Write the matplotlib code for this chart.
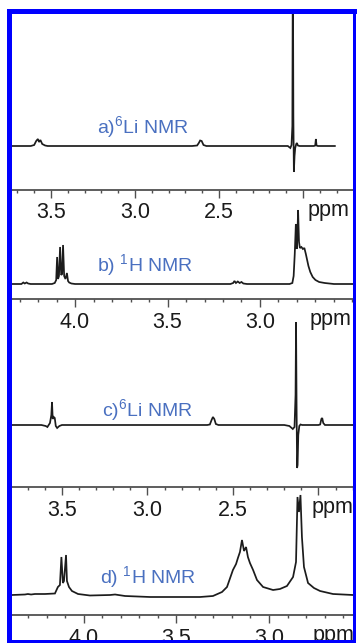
import matplotlib
matplotlib.use("Agg")
import matplotlib.pyplot as plt
from matplotlib.patches import Rectangle
from matplotlib.ticker import MultipleLocator

plt.rcParams['font.family'] = ['Liberation Sans', 'DejaVu Sans']
plt.rcParams['mathtext.fontset'] = 'custom'
plt.rcParams['mathtext.rm'] = 'Liberation Sans'

W, H = 358, 643

# ---- data (ppm, intensity above baseline) ----
a_ppm = [3.73, 3.62, 3.600, 3.588, 3.578, 3.571, 3.563, 3.552, 3.535, 3.52,
         2.66, 2.630, 2.620, 2.612, 2.603, 2.592, 2.575,
         2.090, 2.075, 2.068, 2.063, 2.060, 2.057, 2.054, 2.050, 2.046, 2.040, 2.036, 2.030, 2.020,
         1.935, 1.927, 1.923, 1.919, 1.911, 1.81]
a_int = [0, 0, 1, 5, 7, 4, 6, 2, 0.5, 0,
         0, 0.5, 3, 5.5, 5, 1, 0,
         0, -2, 1, 20, 200, 30, -26, -10, -2, 2, 3, 0.5, 0,
         0, 0.5, 7, 0.5, 0, 0]

b_ppm = [4.34, 4.29, 4.280, 4.272, 4.262, 4.254, 4.24,
         4.125, 4.110, 4.102, 4.097, 4.092, 4.087, 4.081, 4.075, 4.070, 4.065, 4.059,
         4.052, 4.044, 4.038, 4.032, 4.020, 4.00,
         3.16, 3.145, 3.138, 3.130, 3.120, 3.110, 3.100, 3.090, 3.07,
         2.84, 2.825, 2.818, 2.812, 2.806, 2.802, 2.798, 2.794, 2.789, 2.784, 2.776, 2.768,
         2.760, 2.752, 2.745, 2.738, 2.728, 2.715, 2.700, 2.680, 2.650, 2.60, 2.50]
b_int = [0, 0, 1.5, 0.5, 1.5, 0.5, 0,
         0, 1, 4, 27, 5, 8, 37, 9, 10, 39, 8,
         5, 11, 3, 1.5, 0.5, 0,
         0, 1, 3, 1, 2.5, 1, 2, 0.5, 0,
         0, 1, 8, 30, 60, 35, 45, 74, 42, 36, 37, 35,
         36, 30, 24, 18, 12, 7, 4, 2, 1, 0, 0]

c_ppm = [3.79, 3.62, 3.595, 3.585, 3.570, 3.562, 3.558, 3.554, 3.548, 3.542, 3.536, 3.528, 3.515, 3.50,
         2.65, 2.635, 2.625, 2.617, 2.609, 2.600, 2.585,
         2.20, 2.170, 2.150, 2.140, 2.134, 2.131, 2.128, 2.125, 2.122, 2.118, 2.112, 2.105, 2.095,
         2.000, 1.990, 1.983, 1.978, 1.972, 1.962, 1.798]
c_int = [0, 0, -1, -2, 2, 10, 23, 6, 8, 7, -1, -3, -1, 0,
         0, 0.5, 5, 8, 6, 1, 0,
         0, -1, -4, -2, 30, 103, 20, -43, -40, -10, -1, 0.5, 0,
         0, 0.5, 6, 7, 2, 0, 0]

d_ppm = [4.389, 4.319, 4.303, 4.286, 4.265, 4.211, 4.157,
         4.141, 4.130, 4.122, 4.114, 4.108, 4.097, 4.092, 4.081, 4.065, 4.032,
         3.968, 3.859, 3.832, 3.778, 3.643, 3.373, 3.303,
         3.254, 3.227, 3.195, 3.178, 3.168, 3.157, 3.146, 3.135, 3.124, 3.114, 3.103,
         3.086, 3.065, 3.032, 2.978, 2.941, 2.903, 2.870,
         2.854, 2.846, 2.838, 2.830, 2.822, 2.811, 2.789, 2.757, 2.724, 2.654, 2.546]
d_int = [2, 2.5, 3, 2.5, 3, 3, 3.5,
         10, 12, 40, 14, 16, 42, 16, 10, 6, 3,
         1.5, 2, 2.5, 1, 0, 0, 1,
         5, 10, 27, 33, 39, 45, 57, 46, 50, 40, 34,
         27, 17, 10, 7, 8, 11, 20,
         35, 100, 85, 102, 60, 30, 14, 9, 6, 3, 2]

# axis limits (ppm, left to right) and ticks for each panel
a_xlim = (3.732, 1.702)
b_xlim = (4.341, 2.497)
c_xlim = (3.792, 1.798)
d_xlim = (4.389, 2.546)

a_ticks, a_labels = [3.5, 3.0, 2.5, 2.0], ['3.5', '3.0', '2.5', '']
b_ticks, b_labels = [4.0, 3.5, 3.0], ['4.0', '3.5', '3.0']
c_ticks, c_labels = [3.5, 3.0, 2.5, 2.0], ['3.5', '3.0', '2.5', '']
d_ticks, d_labels = [4.0, 3.5, 3.0], ['4.0', '3.5', '3.0']

titles = [r'a)$\mathregular{^6}$Li NMR', r'b) $\mathregular{^1}$H NMR',
          r'c)$\mathregular{^6}$Li NMR', r'd) $\mathregular{^1}$H NMR']

LABEL_BLUE = '#4a70c0'
FRAME_BLUE = '#0000ff'


def px_rect(x0, y0, x1, y1):
    # pixel box (top-left origin) -> figure fraction rect
    return [x0 / W, 1 - y1 / H, (x1 - x0) / W, (y1 - y0) / H]


def draw_panel(fig, box, ppm, inten, xlim, ylim, ticks, labels,
               title, title_xy, ppm_x):
    ax = fig.add_axes(px_rect(*box))
    ax.set_facecolor('none')
    ax.plot(ppm, inten, color='#1c1c1c', lw=1.25, solid_joinstyle='miter')
    ax.set_xlim(*xlim)
    ax.set_ylim(*ylim)

    for s in ('top', 'left', 'right'):
        ax.spines[s].set_visible(False)
    ax.spines['bottom'].set_color('#505050')
    ax.spines['bottom'].set_linewidth(1.3)
    ax.yaxis.set_visible(False)

    ax.set_xticks(ticks, labels=labels)
    ax.xaxis.set_minor_locator(MultipleLocator(0.1))
    ax.tick_params(axis='x', which='major', direction='out', length=6, width=1,
                   color='#505050', labelsize=15.5, pad=3, labelcolor='#1a1a1a')
    ax.tick_params(axis='x', which='minor', direction='out', length=2, width=1,
                   color='#505050')

    fig.text(title_xy[0] / W, 1 - title_xy[1] / H, title, color=LABEL_BLUE,
             fontsize=14, ha='left', va='baseline')
    fig.text(ppm_x / W, 1 - (box[3] + 26) / H, 'ppm', color='#1a1a1a',
             fontsize=15.5, ha='left', va='baseline')
    return ax


fig = plt.figure(figsize=(W / 100, H / 100), dpi=100)

draw_panel(fig, (12, 14, 353, 190), a_ppm, a_int, a_xlim, (-44, 132),
           a_ticks, a_labels, titles[0], (97, 133), 308)
draw_panel(fig, (12, 200, 353, 299.5), b_ppm, b_int, b_xlim, (-15.5, 84),
           b_ticks, b_labels, titles[1], (97, 271), 310)
draw_panel(fig, (12, 318, 353, 487), c_ppm, c_int, c_xlim, (-62, 107),
           c_ticks, c_labels, titles[2], (102, 416), 312)
draw_panel(fig, (12, 490, 353, 615), d_ppm, d_int, d_xlim, (-18, 107),
           d_ticks, d_labels, titles[3], (100, 583), 313)

# blue frame drawn on top of everything
for box in [(7, 9, 357, 14), (7, 9, 12, 643), (353, 9, 356, 643), (7, 640, 356, 643)]:
    r = px_rect(*box)
    fig.add_artist(Rectangle((r[0], r[1]), r[2], r[3], transform=fig.transFigure,
                             facecolor=FRAME_BLUE, edgecolor='none', zorder=10))

fig.savefig('out.png', dpi=100)
